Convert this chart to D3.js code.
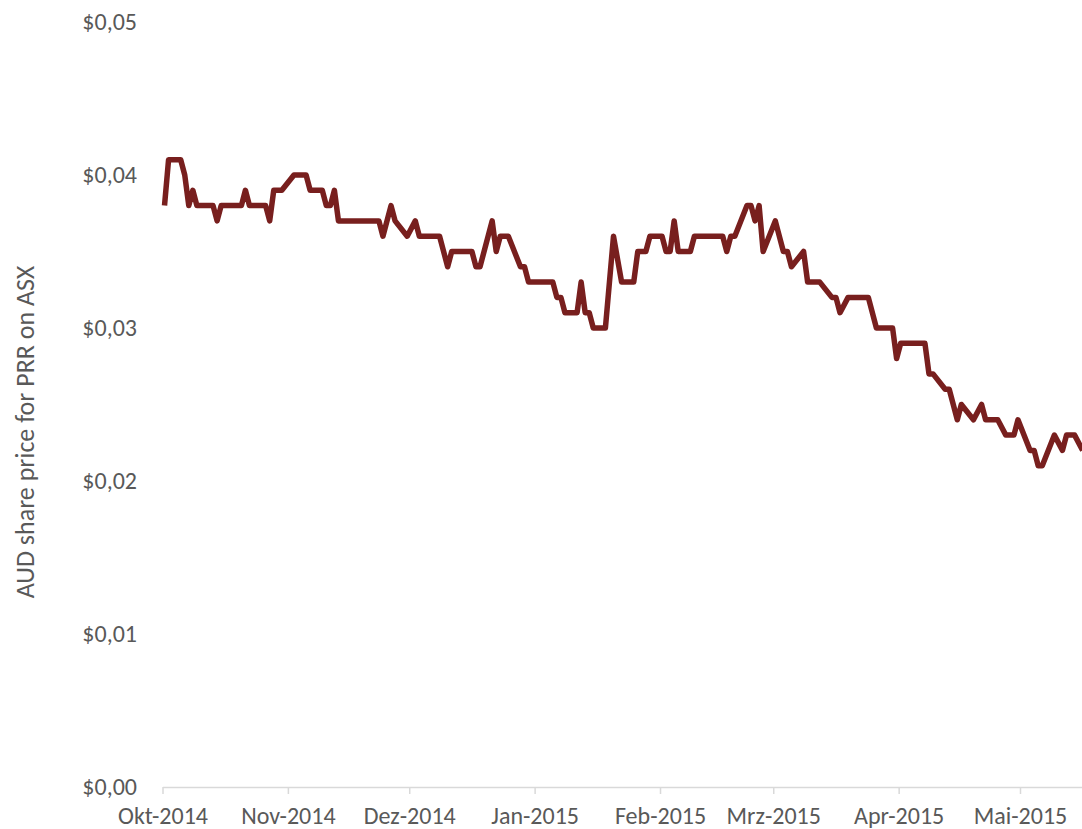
<!DOCTYPE html>
<html>
<head>
<meta charset="utf-8">
<script src="https://cdn.jsdelivr.net/npm/d3@7"></script>
<style>
  body { margin: 0; background: #fff; }
  svg text { font-family: Carlito, Calibri, Lato, sans-serif; fill: #595959; }
</style>
</head>
<body>
<div id="chart"></div>
<script>
// PRR share price on ASX, one point per change of the line
const dates = [
  "2014-10-01","2014-10-02","2014-10-05","2014-10-06","2014-10-07","2014-10-08","2014-10-09",
  "2014-10-13","2014-10-14","2014-10-15","2014-10-20","2014-10-21","2014-10-22","2014-10-26",
  "2014-10-27","2014-10-28","2014-10-30","2014-11-02","2014-11-05","2014-11-06","2014-11-09",
  "2014-11-10","2014-11-11","2014-11-12","2014-11-13","2014-11-23","2014-11-24","2014-11-26",
  "2014-11-27","2014-11-30","2014-12-02","2014-12-03","2014-12-08","2014-12-10","2014-12-11",
  "2014-12-16","2014-12-17","2014-12-18","2014-12-21","2014-12-22","2014-12-23","2014-12-25",
  "2014-12-28","2014-12-29","2014-12-30","2015-01-05","2015-01-06","2015-01-07","2015-01-08",
  "2015-01-11","2015-01-12","2015-01-13","2015-01-14","2015-01-15","2015-01-18","2015-01-20",
  "2015-01-22","2015-01-25","2015-01-26","2015-01-28","2015-01-29","2015-02-01","2015-02-02",
  "2015-02-03","2015-02-04","2015-02-05","2015-02-08","2015-02-09","2015-02-16","2015-02-17",
  "2015-02-18","2015-02-19","2015-02-22","2015-02-23","2015-02-24","2015-02-25","2015-02-26",
  "2015-03-01","2015-03-03","2015-03-04","2015-03-05","2015-03-08","2015-03-09","2015-03-12",
  "2015-03-15","2015-03-16","2015-03-17","2015-03-19","2015-03-24","2015-03-26","2015-03-30",
  "2015-03-31","2015-04-01","2015-04-07","2015-04-08","2015-04-09","2015-04-12","2015-04-13",
  "2015-04-15","2015-04-16","2015-04-19","2015-04-21","2015-04-22","2015-04-25","2015-04-27",
  "2015-04-29","2015-04-30","2015-05-03","2015-05-04","2015-05-05","2015-05-06","2015-05-09",
  "2015-05-11","2015-05-12","2015-05-14","2015-05-16"
];
const prices = [
  0.038,0.041,0.041,0.040,0.038,0.039,0.038,
  0.038,0.037,0.038,0.038,0.039,0.038,0.038,
  0.037,0.039,0.039,0.040,0.040,0.039,0.039,
  0.038,0.038,0.039,0.037,0.037,0.036,0.038,
  0.037,0.036,0.037,0.036,0.036,0.034,0.035,
  0.035,0.034,0.034,0.037,0.035,0.036,0.036,
  0.034,0.034,0.033,0.033,0.032,0.032,0.031,
  0.031,0.033,0.031,0.031,0.030,0.030,0.036,
  0.033,0.033,0.035,0.035,0.036,0.036,0.035,
  0.035,0.037,0.035,0.035,0.036,0.036,0.035,
  0.036,0.036,0.038,0.038,0.037,0.038,0.035,
  0.037,0.035,0.035,0.034,0.035,0.033,0.033,
  0.032,0.032,0.031,0.032,0.032,0.030,0.030,
  0.028,0.029,0.029,0.027,0.027,0.026,0.026,
  0.024,0.025,0.024,0.025,0.024,0.024,0.023,
  0.023,0.024,0.022,0.022,0.021,0.021,0.023,
  0.022,0.023,0.023,0.022
];
const xTickLabels = ["Okt-2014","Nov-2014","Dez-2014","Jan-2015","Feb-2015","Mrz-2015","Apr-2015","Mai-2015"];
const yTickValues = [0, 0.01, 0.02, 0.03, 0.04, 0.05];
const yTickLabels = ["$0,00","$0,01","$0,02","$0,03","$0,04","$0,05"];
const yTitle = "AUD share price for PRR on ASX";

const width = 1082, height = 829;
const parse = d3.timeParse("%Y-%m-%d");
const data = dates.map((d, i) => ({date: parse(d), value: prices[i]}));

const svg = d3.select("#chart").append("svg")
  .attr("width", width)
  .attr("height", height);

// date axis runs past the right edge of the picture
const x = d3.scaleTime()
  .domain([parse("2014-10-01"), parse("2015-05-17")])
  .range([162.5, 162.5 + 4.0448 * 228]);

const y = d3.scaleLinear()
  .domain([0, 0.05])
  .range([787, 22]);

// x axis
const xAxis = svg.append("g")
  .attr("transform", `translate(0,${y(0)})`)
  .call(d3.axisBottom(x)
    .ticks(d3.timeMonth.every(1))
    .tickSize(7)
    .tickSizeOuter(0)
    .tickFormat((d, i) => xTickLabels[i]));
xAxis.select(".domain").attr("stroke", "#d9d9d9").attr("stroke-width", 1.5);
xAxis.selectAll(".tick line").attr("stroke", "#d9d9d9").attr("stroke-width", 1.5);
xAxis.selectAll(".tick text")
  .attr("y", 20)
  .attr("dy", "0.71em")
  .style("font-size", "24px")
  .style("fill", "#595959");

// y axis labels only
const yAxis = svg.append("g")
  .attr("transform", "translate(137,0)")
  .call(d3.axisLeft(y)
    .tickValues(yTickValues)
    .tickSize(0)
    .tickPadding(0)
    .tickFormat((d, i) => yTickLabels[i]));
yAxis.select(".domain").remove();
yAxis.selectAll(".tick text")
  .style("font-size", "24px")
  .style("fill", "#595959");

svg.append("text")
  .attr("transform", "translate(34,432) rotate(-90)")
  .attr("text-anchor", "middle")
  .style("font-size", "26px")
  .text(yTitle);

// price line, points sit in the middle of their day
const line = d3.line()
  .x(d => x(d3.timeHour.offset(d.date, 12)))
  .y(d => y(d.value));

svg.append("path")
  .datum(data)
  .attr("d", line)
  .attr("fill", "none")
  .attr("stroke", "#781f1e")
  .attr("stroke-width", 5.5)
  .attr("stroke-linejoin", "round");
</script>
</body>
</html>
